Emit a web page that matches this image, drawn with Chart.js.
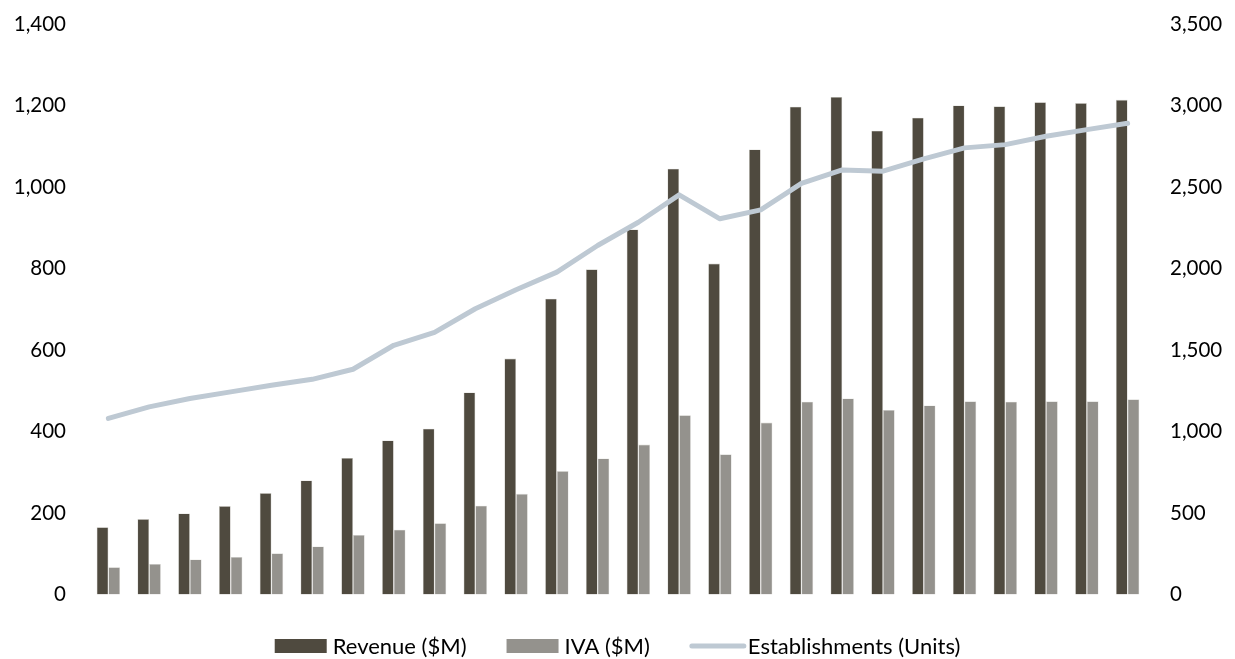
<!DOCTYPE html>
<html>
<head>
<meta charset="utf-8">
<script src="https://cdn.jsdelivr.net/npm/chart.js@4"></script>
<style>
  html, body { margin: 0; padding: 0; background: #ffffff; }
  #wrap { width: 1235px; height: 659px; position: relative; }
</style>
</head>
<body>
<div id="wrap"><canvas id="c" width="1235" height="659"></canvas></div>
<script>
// Periods (no axis labels are shown for them)
const periods = ['1','2','3','4','5','6','7','8','9','10','11','12','13',
                 '14','15','16','17','18','19','20','21','22','23','24','25','26'];

// Revenue, $ million (left axis)
const revenue = [165, 185, 199, 217, 249, 280, 335, 378, 407, 496, 579, 726, 798,
                 896, 1045, 812, 1092, 1197, 1221, 1138, 1170, 1200, 1198, 1208, 1206, 1214];

// Industry value added, $ million (left axis)
const iva = [67, 75, 86, 92, 101, 118, 146, 159, 175, 218, 247, 303, 334,
             368, 440, 344, 422, 473, 481, 453, 464, 474, 473, 474, 474, 479];

// Number of establishments (right axis)
const establishments = [1080, 1151, 1202, 1243, 1284, 1320, 1382, 1529, 1608, 1753, 1870, 1978, 2141,
                        2284, 2452, 2305, 2360, 2522, 2605, 2597, 2673, 2740, 2760, 2811, 2852, 2891];

// Axis tick values
const leftTicks = [0, 200, 400, 600, 800, 1000, 1200, 1400];
const rightTicks = [0, 500, 1000, 1500, 2000, 2500, 3000, 3500];

const FONT = 'Lato, "Open Sans", "DejaVu Sans", sans-serif';
const TICK_SIZE = 20.5;
const LEGEND_SIZE = 22;
const COL_REV = '#4f4a3f';
const COL_IVA = '#94928d';
const COL_EST = '#bec9d3';

const fmt = v => v.toLocaleString('en-US');

// Legend drawn below the plot: box swatches for bars, a rounded stroke for the line
const bottomLegend = {
  id: 'bottomLegend',
  afterDraw(chart) {
    const ctx = chart.ctx;
    const ds = chart.data.datasets;
    const items = [ds[0], ds[1], ds[2]];
    ctx.save();
    ctx.font = LEGEND_SIZE + 'px ' + FONT;
    ctx.textBaseline = 'middle';
    const swW = 52, swGap = 6, itemGap = 40;
    const widths = items.map(d => swW + swGap + ctx.measureText(d.label).width);
    const total = widths.reduce((a, b) => a + b, 0) + itemGap * (items.length - 1);
    let x = chart.width / 2 - total / 2;
    const cy = 646;
    items.forEach((d, i) => {
      if (d.type === 'line') {
        ctx.strokeStyle = d.borderColor;
        ctx.lineWidth = 5;
        ctx.lineCap = 'round';
        ctx.beginPath();
        ctx.moveTo(x + 2, cy);
        ctx.lineTo(x + swW + 2, cy);
        ctx.stroke();
      } else {
        ctx.fillStyle = d.backgroundColor;
        ctx.fillRect(x, cy - 7, swW, 14);
      }
      ctx.fillStyle = '#000000';
      ctx.fillText(d.label, x + swW + swGap, cy + 1);
      x += widths[i] + itemGap;
    });
    ctx.restore();
  }
};

// Value axes span the full plot height; tick labels may overhang the top edge
const fitValueAxis = width => s => {
  s.width = width;
  s.paddingTop = 0;
  s.paddingBottom = 0;
};

new Chart(document.getElementById('c'), {
  data: {
    labels: periods,
    datasets: [
      {
        type: 'bar',
        label: 'Revenue ($M)',
        data: revenue,
        backgroundColor: COL_REV,
        borderColor: 'rgba(200,198,192,0.9)',
        borderWidth: { left: 0.6, right: 0.6, top: 0.6, bottom: 0 },
        yAxisID: 'y',
        order: 2,
        categoryPercentage: 0.575,
        barPercentage: 1.0
      },
      {
        type: 'bar',
        label: 'IVA ($M)',
        data: iva,
        backgroundColor: COL_IVA,
        borderColor: 'rgba(215,214,210,0.9)',
        borderWidth: { left: 0.6, right: 0.6, top: 0.6, bottom: 0 },
        yAxisID: 'y',
        order: 2,
        categoryPercentage: 0.575,
        barPercentage: 1.0
      },
      {
        type: 'line',
        label: 'Establishments (Units)',
        data: establishments,
        borderColor: COL_EST,
        backgroundColor: COL_EST,
        borderWidth: 5,
        borderCapStyle: 'round',
        borderJoinStyle: 'round',
        pointRadius: 0,
        tension: 0,
        yAxisID: 'y1',
        order: 1
      }
    ]
  },
  options: {
    responsive: false,
    animation: false,
    devicePixelRatio: 1,
    layout: { padding: { top: 24, bottom: 64.5, left: 0, right: 0 } },
    plugins: {
      legend: { display: false },
      tooltip: { enabled: false }
    },
    scales: {
      x: {
        display: false,
        grid: { display: false }
      },
      y: {
        position: 'left',
        min: 0,
        max: 1400,
        afterBuildTicks: s => { s.ticks = leftTicks.map(v => ({ value: v })); },
        afterFit: fitValueAxis(88),
        grid: { display: false, drawTicks: false },
        border: { display: false },
        ticks: {
          padding: 22,
          color: '#000000',
          font: { family: FONT, size: TICK_SIZE },
          callback: v => fmt(v)
        }
      },
      y1: {
        position: 'right',
        min: 0,
        max: 3500,
        afterBuildTicks: s => { s.ticks = rightTicks.map(v => ({ value: v })); },
        afterFit: fitValueAxis(87),
        grid: { display: false, drawTicks: false },
        border: { display: false },
        ticks: {
          padding: 22,
          color: '#000000',
          font: { family: FONT, size: TICK_SIZE },
          callback: v => fmt(v)
        }
      }
    }
  },
  plugins: [bottomLegend]
});
</script>
</body>
</html>
